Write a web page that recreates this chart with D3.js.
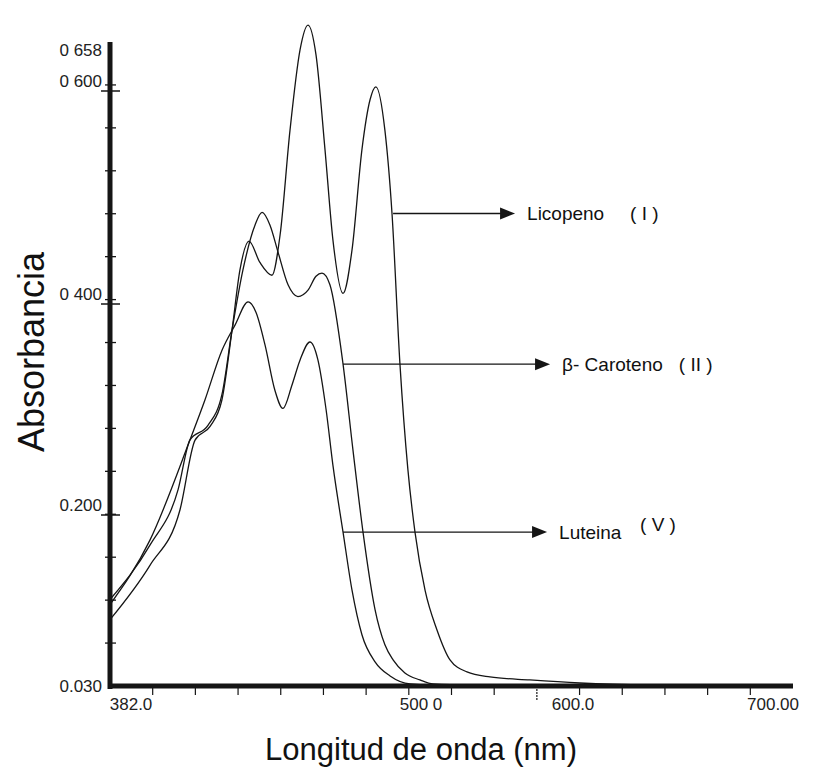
<!DOCTYPE html>
<html>
<head>
<meta charset="utf-8">
<script src="https://cdn.jsdelivr.net/npm/d3@7"></script>
<style>
body { margin: 0; background: #fff; }
svg { font-family: "Liberation Sans", Arial, sans-serif; }
</style>
</head>
<body>
<svg id="chart" width="831" height="782"></svg>
<script>
// spectra: wavelength (nm) and absorbance
var lycopeneNm = [382, 400.6, 414.6, 421.6, 428.6, 434.1, 438.8, 442.5, 446.7, 451.8, 457.4, 461.2, 465.8, 470.5, 474.2, 477.9, 482.1, 485.8, 490.5, 494.7, 499.3, 503.1, 505.8, 510.0, 513.3, 517.0, 520.7, 524.0, 528.7, 534.2, 540.3, 548.2, 558.9, 577.5, 600.8, 633.4, 700]
var lycopeneAbs = [0.096, 0.150, 0.205, 0.271, 0.284, 0.309, 0.375, 0.432, 0.459, 0.439, 0.427, 0.465, 0.563, 0.649, 0.678, 0.643, 0.545, 0.460, 0.410, 0.451, 0.545, 0.592, 0.605, 0.563, 0.485, 0.343, 0.243, 0.183, 0.125, 0.086, 0.056, 0.044, 0.039, 0.036, 0.033, 0.031, 0.030]

var caroteneNm = [382, 400.6, 413.7, 419.2, 427.6, 434.1, 438.8, 443.9, 449.5, 452.8, 456.5, 460.2, 464.9, 469.5, 474.2, 477.9, 480.7, 484.4, 490.5, 495.1, 499.8, 505.4, 510.0, 513.8, 519.3, 526.3, 532.4, 549.6, 700]
var caroteneAbs = [0.116, 0.170, 0.224, 0.271, 0.285, 0.314, 0.375, 0.432, 0.474, 0.486, 0.474, 0.449, 0.418, 0.407, 0.413, 0.426, 0.429, 0.418, 0.343, 0.262, 0.183, 0.106, 0.071, 0.056, 0.043, 0.036, 0.032, 0.031, 0.030]

var luteinNm = [382, 400.6, 419.2, 426.2, 434.1, 440.2, 446.3, 450.0, 454.2, 458.8, 462.5, 466.7, 470.5, 475.1, 478.8, 482.6, 485.8, 490.5, 494.7, 499.3, 505.4, 512.4, 521.7, 540.3, 700]
var luteinAbs = [0.111, 0.175, 0.271, 0.309, 0.356, 0.380, 0.402, 0.392, 0.361, 0.318, 0.301, 0.323, 0.347, 0.364, 0.347, 0.300, 0.247, 0.183, 0.125, 0.081, 0.054, 0.040, 0.032, 0.030, 0.030]

// axis labels as printed on the scan
var yTickValues = [0.658, 0.600, 0.400, 0.200, 0.030]
var yTickLabels = ["0 658", "0 600", "0 400", "0.200", "0.030"]
var xTickLabels = ["382.0", "500 0", "600.0", "700.00"]
var xTickLabelAt = [391.8, 526.8, 597.6, 690.7]

// arrows to each curve
var annotNames = ["Licopeno", "\u03b2- Caroteno", "Luteina"]
var annotNumerals = ["( I )", "( II )", "( V )"]
var annotStartNm = [513.8, 490.5, 490.5]
var annotAbs = [0.485, 0.343, 0.183]
var annotTipNm = [570.6, 586.9, 585.5]

var svg = d3.select("svg#chart")

var x = d3.scaleLinear().domain([382, 700]).range([110, 793])
// the printed scan is not quite linear, so pin the labelled values
var y = d3.scaleLinear().domain([0.030, 0.200, 0.400, 0.600, 0.658]).range([686, 515, 304, 91, 42])

var ink = "#151515"

// minor ticks
var xMinor = d3.range(1, 16).map(function(k) { return 382 + k * 318 / 16 })
svg.append("g").selectAll("line").data(xMinor).enter().append("line")
    .attr("x1", function(d) { return x(d) })
    .attr("x2", function(d) { return x(d) })
    .attr("y1", 686)
    .attr("y2", function(d, i) { return i == 9 ? 701 : 695 })
    .attr("stroke", ink)
    .attr("stroke-width", 1.2)
    .attr("stroke-dasharray", function(d, i) { return i == 9 ? "2,1" : null })

var yMinor = d3.range(1, 15).map(function(k) {
    return y.invert(y(0.030) + k * (y(0.658) - y(0.030)) / 15)
})
svg.append("g").selectAll("line").data(yMinor).enter().append("line")
    .attr("x1", 105).attr("x2", 116)
    .attr("y1", function(d) { return y(d) })
    .attr("y2", function(d) { return y(d) })
    .attr("stroke", ink)
    .attr("stroke-width", 1.3)

// labelled ticks cross the axis
svg.append("g").selectAll("line").data(yTickValues.slice(1, 4)).enter().append("line")
    .attr("x1", 101).attr("x2", 120)
    .attr("y1", function(d) { return y(d) })
    .attr("y2", function(d) { return y(d) })
    .attr("stroke", ink)
    .attr("stroke-width", 1.5)

// curves
var line = d3.line()
    .x(function(d) { return x(d[0]) })
    .y(function(d) { return y(d[1]) })
    .curve(d3.curveMonotoneX)

var series = [
    d3.zip(lycopeneNm, lycopeneAbs),
    d3.zip(caroteneNm, caroteneAbs),
    d3.zip(luteinNm, luteinAbs)
]
svg.append("g").selectAll("path").data(series).enter().append("path")
    .attr("d", line)
    .attr("fill", "none")
    .attr("stroke", ink)
    .attr("stroke-width", 1.3)

// axes
svg.append("line")
    .attr("x1", x(382)).attr("x2", x(382))
    .attr("y1", y(0.658)).attr("y2", y(0.030) + 3)
    .attr("stroke", ink).attr("stroke-width", 5)
svg.append("line")
    .attr("x1", x(382) - 2).attr("x2", x(700))
    .attr("y1", y(0.030)).attr("y2", y(0.030))
    .attr("stroke", ink).attr("stroke-width", 5)

svg.append("g").selectAll("text").data(yTickValues).enter().append("text")
    .attr("x", 102)
    .attr("y", function(d, i) {
        if (i == 0) return y(d) + 14
        if (i == 4) return y(d) + 6
        return y(d) - 4
    })
    .attr("text-anchor", "end")
    .style("font-size", "17px")
    .attr("fill", "#222")
    .text(function(d, i) { return yTickLabels[i] })

svg.append("g").selectAll("text").data(xTickLabelAt).enter().append("text")
    .attr("x", function(d) { return x(d) })
    .attr("y", 710)
    .attr("text-anchor", "middle")
    .style("font-size", "17px")
    .attr("fill", "#222")
    .text(function(d, i) { return xTickLabels[i] })

// axis titles
svg.append("text")
    .attr("transform", "translate(44," + 352 + ") rotate(-90)")
    .attr("text-anchor", "middle")
    .style("font-size", "36px")
    .attr("fill", "#111")
    .text("Absorbancia")
svg.append("text")
    .attr("x", 421).attr("y", 760)
    .attr("text-anchor", "middle")
    .style("font-size", "31px")
    .attr("fill", "#111")
    .text("Longitud de onda (nm)")

// annotation arrows
var annot = svg.append("g")
annotNames.forEach(function(name, i) {
    var ay = y(annotAbs[i])
    var x0 = x(annotStartNm[i])
    var tip = x(annotTipNm[i])
    annot.append("line")
        .attr("x1", x0).attr("x2", tip - 12)
        .attr("y1", ay).attr("y2", ay)
        .attr("stroke", ink).attr("stroke-width", 1.3)
    annot.append("path")
        .attr("d", "M" + (tip - 15) + "," + (ay - 6) + " L" + tip + "," + ay + " L" + (tip - 15) + "," + (ay + 6) + " Z")
        .attr("fill", ink)
    var t = annot.append("text")
        .attr("x", tip + 12).attr("y", ay + 7)
        .style("font-size", "19px")
        .attr("fill", "#111")
        .text(name)
    // numeral sits after the name, a little raised for Luteina
    var nameEnd = tip + 12 + t.node().getComputedTextLength()
    annot.append("text")
        .attr("x", Math.max(tip + [115, 100, 93][i], nameEnd + 16))
        .attr("y", ay + (i == 2 ? -1 : 7))
        .style("font-size", "19px")
        .style("white-space", "pre")
        .attr("fill", "#111")
        .text(annotNumerals[i])
})
</script>
</body>
</html>
